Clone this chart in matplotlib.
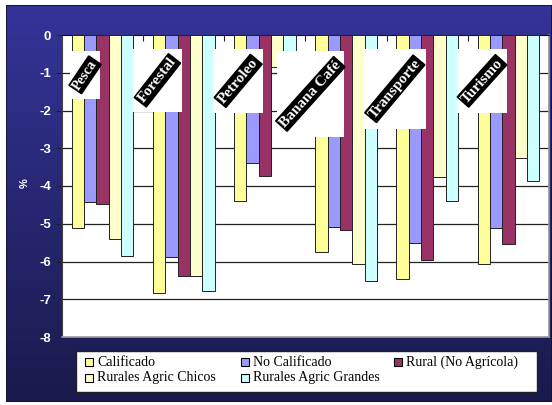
import numpy as np
import matplotlib
matplotlib.use('Agg')
import matplotlib.pyplot as plt
from matplotlib.patches import Rectangle

# sectors and series (values in %)
sectors = ['Pesca', 'Forestal', 'Petroleo', 'Banana Café', 'Transporte', 'Turismo']
series = ['Calificado', 'No Calificado', 'Rural (No Agrícola)',
          'Rurales Agric Chicos', 'Rurales Agric Grandes']
colors = ['#FFFF99', '#9999FF', '#993366', '#FFFFCC', '#CCFFFF']

calificado = [-5.12, -6.83, -4.40, -5.75, -6.46, -6.07]
no_calificado = [-4.43, -5.89, -3.38, -5.08, -5.50, -5.12]
rural_no_agricola = [-4.47, -6.38, -3.73, -5.17, -5.96, -5.54]
agric_chicos = [-5.40, -6.38, -0.86, -6.07, -3.77, -3.26]
agric_grandes = [-5.85, -6.79, -2.00, -6.51, -4.40, -3.88]

yticks = [0, -1, -2, -3, -4, -5, -6, -7, -8]

values = [calificado, no_calificado, rural_no_agricola, agric_chicos, agric_grandes]

plt.rcParams['axes.unicode_minus'] = False

W, H = 552, 405
fig = plt.figure(figsize=(W / 100, H / 100), dpi=100)
fig.patch.set_facecolor('white')

# gradient blue background
bg = fig.add_axes([6 / W, 3 / H, 546 / W, 397 / H])
top = np.array([52, 52, 153]) / 255
bot = np.array([26, 26, 76]) / 255
t = np.linspace(0, 1, 256)[:, None]
grad = (top[None, :] * (1 - t) + bot[None, :] * t)[:, None, :]
bg.imshow(grad, aspect='auto', extent=[0, 1, 0, 1])
bg.set_xlim(0, 1)
bg.set_ylim(0, 1)
bg.axis('off')
bg.add_patch(Rectangle((0, 0), 1, 1, fill=False, edgecolor='#111133', lw=1.2,
                       transform=bg.transAxes))

ax = fig.add_axes([62 / W, 1 - 337 / H, 487 / W, 302 / H])
ax.set_facecolor('white')

x = np.arange(len(sectors))
bw = 0.152
for k, (vals, col) in enumerate(zip(values, colors)):
    ax.bar(x + (k - 2) * bw, vals, width=bw, color=col, edgecolor='#222222',
           linewidth=0.7, zorder=3)

ax.set_xlim(-0.5, len(sectors) - 0.5)
ax.set_ylim(-8, 0)
ax.set_yticks(yticks)
ax.set_yticklabels([str(v) for v in yticks], color='white', fontsize=9.5,
                   fontweight='bold', family='Liberation Sans')
ax.tick_params(axis='y', length=4, color='#222222', pad=4)
ax.set_xticks(x[:-1] + 0.5)
ax.set_xticklabels([])
ax.xaxis.set_ticks_position('top')
ax.tick_params(axis='x', direction='in', length=4, color='#222222')
for v in yticks[1:-1]:
    ax.axhline(v, color='#222222', lw=0.9, zorder=1)
ax.spines['top'].set_color('#111111')
ax.spines['left'].set_color('#444444')
ax.spines['right'].set_color('#999999')
ax.spines['bottom'].set_color('#999999')
ax.spines['right'].set_linewidth(1.2)
ax.spines['bottom'].set_linewidth(1.2)

fig.text(25 / W, 1 - 183 / H, '%', color='white', rotation=90, fontsize=8,
         fontweight='bold', family='Liberation Sans', ha='center', va='center')

# sector labels: white box with black diagonal band
boxes = [(-0.40, -0.03, -0.42, -1.69, 56, 10),
         (-0.63, -0.02, -0.36, -2.04, 52, 11),
         (-0.64, -0.02, -0.36, -2.07, 50, 11),
         (-0.85, -0.03, -0.42, -2.70, 48, 11),
         (-0.78, -0.02, -0.36, -2.49, 50, 11),
         (-0.63, -0.02, -0.36, -2.07, 48, 11)]
for i, (name, (l, r, tp, bt, ang, fs)) in enumerate(zip(sectors, boxes)):
    ax.add_patch(Rectangle((i + l, bt), r - l, tp - bt, facecolor='white',
                           edgecolor='none', zorder=5))
    ax.text(i + (l + r) / 2, (tp + bt) / 2, name, rotation=ang, color='white',
            fontsize=fs, fontweight='bold', family='Liberation Serif',
            ha='center', va='center', rotation_mode='anchor', zorder=6,
            bbox=dict(boxstyle='square,pad=0.08', facecolor='black',
                      edgecolor='black'))

# legend
lg = fig.add_axes([76 / W, 1 - 392 / H, 461 / W, 41 / H])
lg.set_xlim(0, 461)
lg.set_ylim(41, 0)
lg.set_xticks([])
lg.set_yticks([])
for s in lg.spines.values():
    s.set_color('#222222')
    s.set_linewidth(1)
col_x = [9, 165, 318]
row_y = [11, 27]
for n, (name, col) in enumerate(zip(series, colors)):
    cx = col_x[n % 3]
    cy = row_y[n // 3]
    lg.add_patch(Rectangle((cx, cy - 4), 8, 8, facecolor=col,
                           edgecolor='black', lw=0.8))
    lg.text(cx + 12, cy, name, fontsize=10, family='Liberation Serif',
            va='center', ha='left', color='black')

fig.savefig('out.png', dpi=100)
